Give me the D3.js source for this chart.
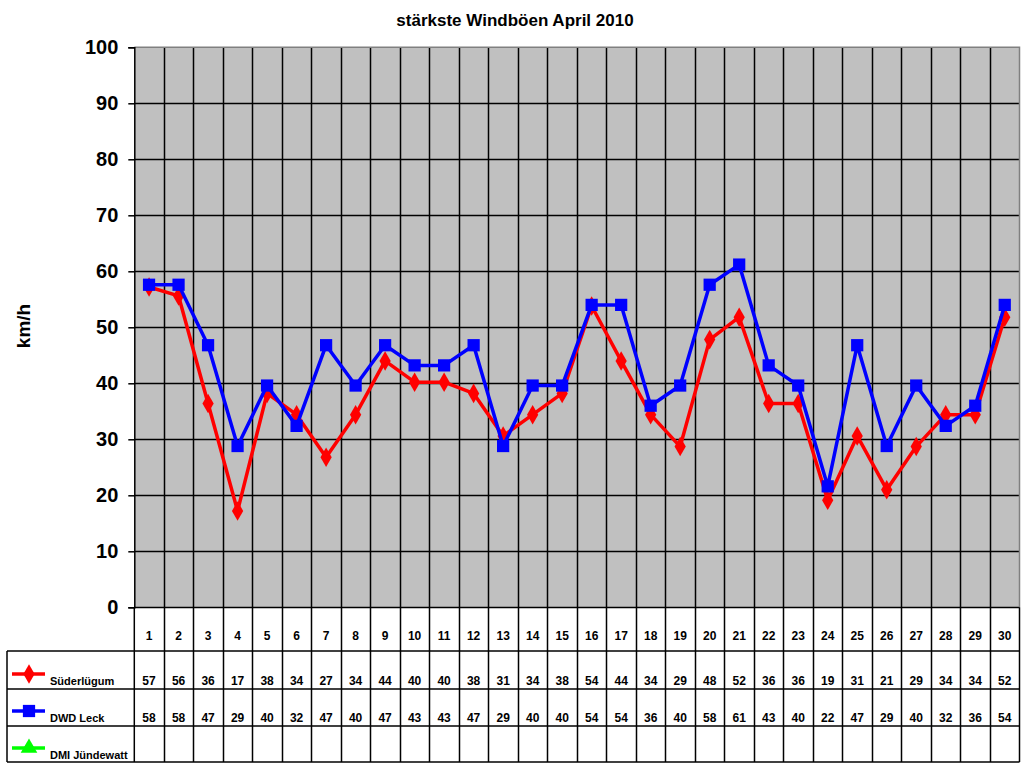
<!DOCTYPE html>
<html>
<head>
<meta charset="utf-8">
<script src="https://cdn.jsdelivr.net/npm/d3@7"></script>
<style>
  body { margin: 0; background: #fff; }
  text { font-family: "Liberation Sans", Arial, sans-serif; font-weight: bold; fill: #000; }
</style>
</head>
<body>
<div id="chart"></div>
<script>
'use strict';

// data
var days = d3.range(1, 31);
var seriesNames = ['Süderlügum', 'DWD Leck', 'DMI Jündewatt'];
var seriesColors = ['#ff0000', '#0000ff', '#00ff00'];
var seriesShapes = ['diamond', 'square', 'triangle'];
var suederluegum = [57.2, 55.6, 36.4, 17.2, 38.2, 34.4, 26.8, 34.4, 44.0, 40.2,
                    40.2, 38.2, 30.6, 34.4, 38.2, 53.8, 44.0, 34.4, 28.7, 47.8,
                    51.8, 36.4, 36.4, 19.1, 30.6, 21.0, 28.7, 34.4, 34.4, 51.8];
var dwdLeck = [57.6, 57.6, 46.8, 28.8, 39.6, 32.4, 46.8, 39.6, 46.8, 43.2,
               43.2, 46.8, 28.8, 39.6, 39.6, 54.0, 54.0, 36.0, 39.6, 57.6,
               61.2, 43.2, 39.6, 21.6, 46.8, 28.8, 39.6, 32.4, 36.0, 54.0];
var dmiJuendewatt = [];
var yTicks = [0, 10, 20, 30, 40, 50, 60, 70, 80, 90, 100];

var seriesValues = [suederluegum, dwdLeck, dmiJuendewatt];

// layout
var width = 1024, height = 768,
    plotLeft = 134.3, plotRight = 1019.5,
    plotTop = 47.3, plotBottom = 607.3,
    tableLeft = 7,
    rowLines = [651, 689, 726, 762];

var svg = d3.select('#chart')
    .append('svg')
    .attr('width', width)
    .attr('height', height);

var x = d3.scaleBand()
    .domain(days)
    .range([plotLeft, plotRight]);

var y = d3.scaleLinear()
    .domain([0, 100])
    .range([plotBottom, plotTop]);

// plot background
svg.append('rect')
    .attr('x', plotLeft)
    .attr('y', plotTop)
    .attr('width', plotRight - plotLeft)
    .attr('height', plotBottom - plotTop)
    .attr('fill', '#c0c0c0');

// horizontal grid (incl. zero line)
svg.append('g')
    .selectAll('line')
    .data(yTicks.slice(0, -1))
    .enter()
    .append('line')
    .attr('x1', plotLeft).attr('x2', plotRight)
    .attr('y1', function (d) { return Math.round(y(d)) + 0.5; })
    .attr('y2', function (d) { return Math.round(y(d)) + 0.5; })
    .attr('stroke', '#000').attr('stroke-width', 1.5);

// vertical grid, runs down through the data table
svg.append('g')
    .selectAll('line')
    .data(days.slice(1))
    .enter()
    .append('line')
    .attr('x1', function (d) { return Math.round(x(d)) + 0.5; })
    .attr('x2', function (d) { return Math.round(x(d)) + 0.5; })
    .attr('y1', plotTop).attr('y2', rowLines[3])
    .attr('stroke', '#000').attr('stroke-width', 1.5);

// plot border top / right
svg.append('polyline')
    .attr('points', [plotLeft, plotTop, plotRight, plotTop, plotRight, plotBottom])
    .attr('fill', 'none').attr('stroke', '#808080').attr('stroke-width', 1.5);

// table lines
svg.append('line')
    .attr('x1', plotRight).attr('x2', plotRight)
    .attr('y1', plotBottom).attr('y2', rowLines[3])
    .attr('stroke', '#000').attr('stroke-width', 1.5);
svg.append('line')
    .attr('x1', plotLeft).attr('x2', plotLeft)
    .attr('y1', plotBottom).attr('y2', rowLines[3])
    .attr('stroke', '#000').attr('stroke-width', 1.5);
svg.append('line')
    .attr('x1', tableLeft).attr('x2', tableLeft)
    .attr('y1', rowLines[0]).attr('y2', rowLines[3])
    .attr('stroke', '#000').attr('stroke-width', 1.5);
svg.append('g')
    .selectAll('line')
    .data(rowLines)
    .enter()
    .append('line')
    .attr('x1', tableLeft).attr('x2', plotRight)
    .attr('y1', function (d) { return d; })
    .attr('y2', function (d) { return d; })
    .attr('stroke', '#000').attr('stroke-width', 1.5);

// y axis
var yAxis = d3.axisLeft(y)
    .tickValues(yTicks)
    .tickSize(6)
    .tickPadding(10);

var gy = svg.append('g')
    .attr('transform', 'translate(' + plotLeft + ',0)')
    .call(yAxis);
gy.selectAll('path').attr('stroke', '#000').attr('stroke-width', 1.5);
gy.selectAll('line').attr('stroke', '#000').attr('stroke-width', 1.5);
gy.selectAll('text')
    .style('font-family', '"Liberation Sans", Arial, sans-serif')
    .style('font-weight', 'bold')
    .style('font-size', '20px')
    .attr('fill', '#000');

// axis title
svg.append('text')
    .attr('transform', 'translate(30,326) rotate(-90)')
    .attr('text-anchor', 'middle')
    .style('font-size', '19px')
    .text('km/h');

// chart title
svg.append('text')
    .attr('x', 515)
    .attr('y', 26)
    .attr('text-anchor', 'middle')
    .style('font-size', '17px')
    .text('stärkste Windböen April 2010');

// markers
var symbolTypes = {
    diamond: d3.symbolDiamond,
    square: d3.symbolSquare,
    triangle: d3.symbolTriangle
};
var symbolSizes = { diamond: 110, square: 150, triangle: 120 };

function marker(sel, shape, color) {
    sel.append('path')
        .attr('d', d3.symbol().type(symbolTypes[shape]).size(symbolSizes[shape]))
        .attr('fill', color);
}

var line = d3.line()
    .x(function (d, i) { return x(days[i]) + x.bandwidth() / 2; })
    .y(function (d) { return y(d); });

seriesValues.forEach(function (vals, s) {
    if (!vals.length) return;
    var g = svg.append('g');
    g.append('path')
        .datum(vals)
        .attr('d', line)
        .attr('fill', 'none')
        .attr('stroke', seriesColors[s])
        .attr('stroke-width', 3.5)
        .attr('stroke-linejoin', 'round');
    g.selectAll('g.pt')
        .data(vals)
        .enter()
        .append('g')
        .attr('class', 'pt')
        .attr('transform', function (d, i) {
            return 'translate(' + (x(days[i]) + x.bandwidth() / 2) + ',' + y(d) + ')';
        })
        .each(function () { marker(d3.select(this), seriesShapes[s], seriesColors[s]); });
});

// table: day row
svg.append('g')
    .selectAll('text')
    .data(days)
    .enter()
    .append('text')
    .attr('x', function (d) { return x(d) + x.bandwidth() / 2; })
    .attr('y', 640)
    .attr('text-anchor', 'middle')
    .style('font-size', '12px')
    .text(function (d) { return d; });

// table: series rows with legend keys
var rowBase = [685, 722, 759];
var keyY = [674, 711, 748];

seriesValues.forEach(function (vals, s) {
    var key = svg.append('g');
    key.append('line')
        .attr('x1', 12).attr('x2', 45)
        .attr('y1', keyY[s]).attr('y2', keyY[s])
        .attr('stroke', seriesColors[s]).attr('stroke-width', 3.5);
    key.append('g')
        .attr('transform', 'translate(29,' + keyY[s] + ')')
        .call(marker, seriesShapes[s], seriesColors[s]);
    key.append('text')
        .attr('x', 50)
        .attr('y', rowBase[s])
        .style('font-size', '11px')
        .text(seriesNames[s]);

    svg.append('g')
        .selectAll('text')
        .data(vals)
        .enter()
        .append('text')
        .attr('x', function (d, i) { return x(days[i]) + x.bandwidth() / 2; })
        .attr('y', rowBase[s])
        .attr('text-anchor', 'middle')
        .style('font-size', '12px')
        .text(function (d) { return Math.round(d); });
});
</script>
</body>
</html>
